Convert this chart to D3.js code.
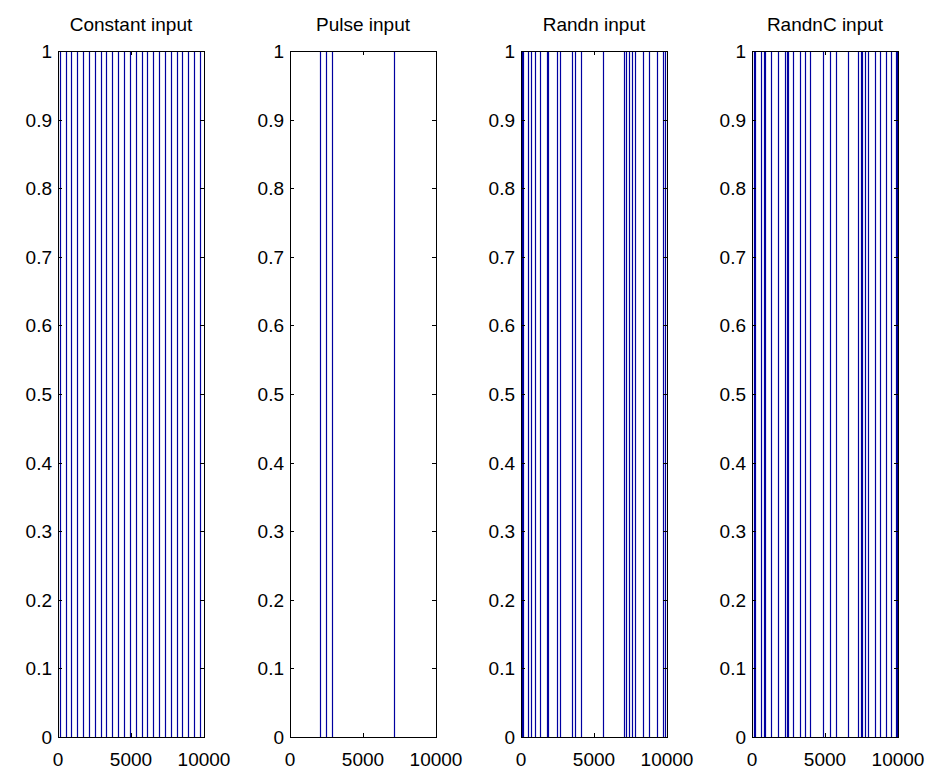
<!DOCTYPE html>
<html lang="en">
<head>
    <meta charset="UTF-8">
    <title>Spike trains</title>
    <script src="https://d3js.org/d3.v7.min.js"></script>
    <style>
        body { margin: 0; background: #fff; }
        text { font-family: "Liberation Sans", Arial, sans-serif; fill: #000; }
    </style>
</head>
<body>
<svg id="chart" width="936" height="775"></svg>
<script>
    // panel titles
    const titles = ['Constant input', 'Pulse input', 'Randn input', 'RandnC input'];

    // spike times (time steps 0..10000)
    const constantSpikes = [120, 520, 920, 1320, 1720, 2120, 2520, 2920, 3320, 3720, 4120, 4520, 4920,
        5320, 5720, 6120, 6520, 6920, 7320, 7720, 8120, 8520, 8920, 9320, 9720];
    const pulseSpikes = [2070, 2450, 2850, 7130];
    const randnSpikes = [60, 140, 454, 680, 975, 1315, 1760, 1850, 2494, 2676, 3515, 3673, 4082,
        5624, 7029, 7211, 7392, 7596, 7823, 8390, 8798, 9297, 9705, 9864];
    const randnCSpikes = [150, 230, 594, 830, 900, 1324, 1781, 2237, 2380, 2450, 2808, 3265, 3607, 3950,
        4863, 5320, 5776, 6575, 7260, 7440, 7520, 7717, 7945, 8402, 8790, 9201, 9543, 9850, 9930];
    const allSpikes = [constantSpikes, pulseSpikes, randnSpikes, randnCSpikes];

    const xTicks = [0, 5000, 10000];
    const yTicks = [0, 0.1, 0.2, 0.3, 0.4, 0.5, 0.6, 0.7, 0.8, 0.9, 1];

    const svg = d3.select('#chart');
    const panelLeft = [58, 290, 521, 752];
    const panelW = 146;
    const axTop = 51, axBottom = 737;
    const fs = 19;
    const fmtY = d => d === 0 ? '0' : d === 1 ? '1' : d3.format('.1f')(d);

    const y = d3.scaleLinear().domain([0, 1]).range([axBottom, axTop]);

    panelLeft.forEach((left, i) => {
        const x = d3.scaleLinear().domain([0, 10000]).range([left, left + panelW]);
        const g = svg.append('g');

        // spikes
        g.selectAll('line.spike')
            .data(allSpikes[i])
            .enter().append('line')
            .attr('class', 'spike')
            .attr('x1', d => Math.round(x(d)) + 0.5)
            .attr('x2', d => Math.round(x(d)) + 0.5)
            .attr('y1', y(0))
            .attr('y2', y(1))
            .attr('stroke', '#0000a0')
            .attr('stroke-width', 1.2);

        // frame
        g.append('rect')
            .attr('x', left + 0.5).attr('y', axTop + 0.5)
            .attr('width', panelW).attr('height', axBottom - axTop)
            .attr('fill', 'none').attr('stroke', '#000');

        // inward ticks
        const tk = 4;
        xTicks.forEach(t => {
            const px = Math.round(x(t)) + 0.5;
            g.append('line').attr('x1', px).attr('x2', px).attr('y1', axBottom).attr('y2', axBottom - tk).attr('stroke', '#000');
            g.append('line').attr('x1', px).attr('x2', px).attr('y1', axTop).attr('y2', axTop + tk).attr('stroke', '#000');
            g.append('text').attr('x', x(t)).attr('y', axBottom + 29)
                .attr('text-anchor', 'middle').attr('font-size', fs).text(t);
        });
        yTicks.forEach(t => {
            const py = Math.round(y(t)) + 0.5;
            g.append('line').attr('x1', left).attr('x2', left + tk).attr('y1', py).attr('y2', py).attr('stroke', '#000');
            g.append('line').attr('x1', left + panelW).attr('x2', left + panelW - tk).attr('y1', py).attr('y2', py).attr('stroke', '#000');
            g.append('text').attr('x', left - 6).attr('y', y(t) + 7)
                .attr('text-anchor', 'end').attr('font-size', fs).text(fmtY(t));
        });

        // title
        svg.append('text').attr('x', left + panelW / 2).attr('y', 31)
            .attr('text-anchor', 'middle').attr('font-size', fs).text(titles[i]);
    });
</script>
</body>
</html>
